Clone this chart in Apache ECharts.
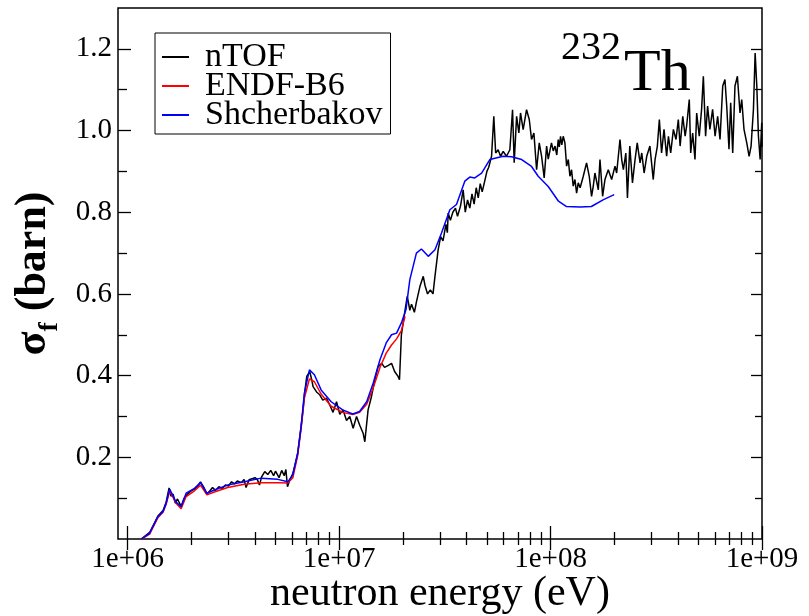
<!DOCTYPE html>
<html>
<head>
<meta charset="utf-8">
<script src="https://cdn.jsdelivr.net/npm/echarts@6/dist/echarts.min.js"></script>
<style>
html, body { margin: 0; padding: 0; background: #fff; }
#chart { width: 809px; height: 616px; }
</style>
</head>
<body>
<div id="chart"></div>
<script>
// nTOF measurement (eV, barn)
const ntofEnergy = [
  1.16e6, 1.27e6, 1.39e6, 1.47e6, 1.52e6, 1.57e6, 1.60e6, 1.64e6, 1.68e6, 1.72e6,
  1.79e6, 1.85e6, 1.92e6, 2.0e6, 2.07e6, 2.15e6, 2.21e6, 2.3e6, 2.37e6, 2.45e6,
  2.52e6, 2.6e6, 2.7e6, 2.8e6, 2.9e6, 3.0e6, 3.1e6, 3.2e6, 3.3e6, 3.45e6,
  3.55e6, 3.63e6, 3.75e6, 3.9e6, 4.0e6, 4.1e6, 4.2e6, 4.3e6, 4.45e6, 4.6e6,
  4.75e6, 4.9e6, 5.0e6, 5.2e6, 5.35e6, 5.5e6, 5.6e6, 5.7e6, 5.85e6, 6.04e6,
  6.24e6, 6.37e6, 6.59e6, 6.73e6, 6.88e6, 7.03e6, 7.26e6, 7.42e6, 7.53e6, 7.82e6,
  8.10e6, 8.37e6, 8.71e6, 9.03e6, 9.36e6, 9.72e6, 1.0075e7, 1.044e7, 1.084e7, 1.123e7,
  1.165e7, 1.209e7, 1.253e7, 1.299e7, 1.323e7, 1.371e7, 1.423e7, 1.475e7, 1.529e7, 1.59e7,
  1.64e7, 1.71e7, 1.77e7, 1.83e7, 1.90e7, 1.93e7, 1.97e7, 2.05e7, 2.1e7, 2.16e7,
  2.2e7, 2.27e7, 2.32e7, 2.41e7, 2.5e7, 2.55e7, 2.62e7, 2.7e7, 2.78e7, 2.84e7,
  2.94e7, 3.02e7, 3.1e7, 3.2e7, 3.25e7, 3.28e7, 3.36e7, 3.45e7, 3.55e7, 3.63e7,
  3.75e7, 3.86e7, 3.95e7, 4.05e7, 4.15e7, 4.25e7, 4.35e7, 4.45e7, 4.55e7, 4.65e7,
  4.75e7, 4.9e7, 5.0e7, 5.1e7, 5.26e7, 5.39e7, 5.50e7, 5.65e7, 5.80e7, 5.97e7,
  6.19e7, 6.42e7, 6.61e7, 6.73e7, 6.91e7, 7.08e7, 7.21e7, 7.42e7, 7.70e7, 7.93e7,
  8.13e7, 8.34e7, 8.59e7, 8.84e7, 9.07e7, 9.33e7, 9.58e7, 9.75e7, 1.01e8, 1.03e8,
  1.05e8, 1.07e8, 1.087e8, 1.10e8, 1.115e8, 1.13e8, 1.148e8, 1.169e8, 1.191e8, 1.213e8,
  1.235e8, 1.257e8, 1.280e8, 1.304e8, 1.328e8, 1.352e8, 1.38e8, 1.402e8, 1.428e8, 1.480e8,
  1.524e8, 1.563e8, 1.592e8, 1.621e8, 1.682e8, 1.713e8, 1.763e8, 1.808e8, 1.875e8, 1.945e8,
  2.017e8, 2.054e8, 2.13e8, 2.17e8, 2.21e8, 2.27e8, 2.31e8, 2.37e8, 2.44e8, 2.51e8,
  2.57e8, 2.65e8, 2.70e8, 2.77e8, 2.85e8, 2.95e8, 3.06e8, 3.12e8, 3.20e8, 3.27e8,
  3.35e8, 3.44e8, 3.54e8, 3.61e8, 3.70e8, 3.81e8, 3.92e8, 4.02e8, 4.10e8, 4.22e8,
  4.33e8, 4.40e8, 4.53e8, 4.60e8, 4.70e8, 4.82e8, 4.91e8, 5.05e8, 5.18e8, 5.28e8,
  5.41e8, 5.53e8, 5.67e8, 5.84e8, 6.00e8, 6.17e8, 6.33e8, 6.52e8, 6.68e8, 6.81e8,
  6.98e8, 7.11e8, 7.27e8, 7.45e8, 7.65e8, 7.87e8, 8.02e8, 8.22e8, 8.47e8, 8.69e8,
  8.88e8, 9.11e8, 9.28e8, 9.45e8, 9.62e8, 9.80e8, 9.97e8, 1.0e9
];
const ntofSigma = [
  0.0, 0.016, 0.056, 0.07, 0.09, 0.125, 0.105, 0.11, 0.088, 0.098,
  0.08, 0.1, 0.11, 0.118, 0.122, 0.13, 0.14, 0.125, 0.11, 0.118,
  0.126, 0.119, 0.128, 0.124, 0.132, 0.13, 0.14, 0.135, 0.142, 0.138,
  0.146, 0.126, 0.145, 0.148, 0.15, 0.146, 0.132, 0.152, 0.165, 0.158,
  0.168, 0.155, 0.166, 0.15, 0.168, 0.155, 0.17, 0.128, 0.145, 0.16,
  0.19, 0.21, 0.27, 0.31, 0.36, 0.398, 0.41, 0.39, 0.373, 0.36,
  0.353, 0.34, 0.345, 0.328, 0.31, 0.336, 0.305, 0.316, 0.29, 0.3,
  0.271, 0.3, 0.278, 0.259, 0.238, 0.316, 0.349, 0.39, 0.422, 0.43,
  0.42, 0.425, 0.43, 0.41, 0.398, 0.39, 0.5, 0.56, 0.594, 0.56,
  0.575, 0.555, 0.58, 0.618, 0.643, 0.62, 0.6, 0.61, 0.6, 0.643,
  0.708, 0.74, 0.73, 0.77, 0.75, 0.798, 0.78, 0.8, 0.81, 0.79,
  0.815, 0.855, 0.8, 0.83, 0.81, 0.845, 0.82, 0.86, 0.835, 0.87,
  0.85, 0.88, 0.9, 0.91, 0.937, 1.035, 0.945, 0.953, 0.937, 0.949,
  0.937, 0.953, 1.051, 0.921, 1.035, 0.994, 1.043, 1.002, 1.051, 1.027,
  0.978, 0.994, 0.904, 0.97, 0.937, 0.884, 0.962, 0.93, 0.97, 0.95,
  0.962, 0.94, 0.978, 0.96, 0.986, 0.965, 0.986, 0.970, 0.913, 0.929,
  0.888, 0.904, 0.864, 0.880, 0.847, 0.872, 0.86, 0.864, 0.888, 0.921,
  0.888, 0.839, 0.864, 0.896, 0.855, 0.929, 0.839, 0.880, 0.904, 0.880,
  0.913, 0.896, 0.978, 0.929, 0.904, 0.945, 0.835, 0.962, 0.872, 0.929,
  0.970, 0.921, 0.945, 0.896, 0.937, 0.962, 0.880, 0.929, 0.962, 1.027,
  0.945, 1.003, 0.937, 0.986, 0.945, 1.003, 0.978, 1.027, 0.962, 1.035,
  0.986, 1.011, 1.076, 0.945, 0.994, 0.929, 1.043, 0.986, 1.052, 1.133,
  0.986, 1.060, 1.003, 1.052, 0.986, 1.035, 0.978, 1.109, 1.125, 1.060,
  0.954, 1.068, 0.945, 1.109, 1.133, 1.043, 1.076, 1.003, 0.970, 0.937,
  0.962, 1.052, 1.190, 1.109, 0.986, 0.929, 1.019, 0.96
];

// ENDF/B-VI evaluation
const endfEnergy = [
  1.16e6, 1.27e6, 1.39e6, 1.47e6, 1.52e6, 1.58e6, 1.63e6, 1.69e6, 1.79e6, 1.89e6,
  2.07e6, 2.21e6, 2.37e6, 2.57e6, 2.97e6, 3.56e6, 4.27e6, 5.13e6, 5.72e6, 6.04e6,
  6.37e6, 6.61e6, 6.85e6, 7.24e6, 7.64e6, 8.22e6, 9.17e6, 1.04e7, 1.16e7, 1.25e7,
  1.35e7, 1.45e7, 1.56e7, 1.67e7, 1.77e7, 1.87e7, 1.97e7, 2.05e7
];
const endfSigma = [
  0.0, 0.012, 0.052, 0.066, 0.085, 0.118, 0.104, 0.088, 0.074, 0.104,
  0.118, 0.132, 0.108, 0.115, 0.126, 0.134, 0.138, 0.138, 0.137, 0.15,
  0.205, 0.27, 0.345, 0.392, 0.385, 0.355, 0.325, 0.31, 0.305, 0.31,
  0.33, 0.37, 0.42, 0.455, 0.475, 0.49, 0.51, 0.545
];

// Shcherbakov data
const shchEnergy = [
  1.16e6, 1.27e6, 1.39e6, 1.47e6, 1.52e6, 1.58e6, 1.63e6, 1.69e6, 1.79e6, 1.89e6,
  2.07e6, 2.21e6, 2.37e6, 2.57e6, 2.97e6, 3.56e6, 4.27e6, 5.13e6, 5.72e6, 6.04e6,
  6.37e6, 6.61e6, 6.85e6, 7.24e6, 7.64e6, 8.22e6, 9.17e6, 1.04e7, 1.16e7, 1.25e7,
  1.35e7, 1.45e7, 1.56e7, 1.67e7, 1.77e7, 1.87e7, 1.97e7, 2.07e7, 2.16e7, 2.32e7,
  2.45e7, 2.64e7, 2.84e7, 3.05e7, 3.34e7, 3.59e7, 3.93e7, 4.15e7, 4.38e7, 4.72e7,
  5.16e7, 5.97e7, 6.54e7, 7.30e7, 8.13e7, 8.74e7, 9.75e7, 1.09e8, 1.19e8, 1.38e8,
  1.56e8, 1.78e8, 2.0e8
];
const shchSigma = [
  0.0, 0.014, 0.055, 0.067, 0.087, 0.122, 0.108, 0.091, 0.079, 0.112,
  0.124, 0.138, 0.112, 0.120, 0.132, 0.140, 0.149, 0.146, 0.140, 0.157,
  0.210, 0.275, 0.357, 0.414, 0.402, 0.365, 0.336, 0.316, 0.306, 0.312,
  0.336, 0.382, 0.439, 0.480, 0.500, 0.504, 0.529, 0.561, 0.635, 0.700,
  0.710, 0.692, 0.708, 0.749, 0.806, 0.819, 0.876, 0.886, 0.884, 0.896,
  0.929, 0.937, 0.936, 0.929, 0.912, 0.888, 0.863, 0.827, 0.814, 0.813,
  0.814, 0.831, 0.843
];

// axis ticks
const xDecades = [6, 7, 8, 9];
const xMinorMult = [2, 3, 4, 5, 6, 7, 8, 9];
const yMajor = [0.2, 0.4, 0.6, 0.8, 1.0, 1.2];
const yMinor = [0.1, 0.3, 0.5, 0.7, 0.9, 1.1];

const xMin = 9e5, xMax = 1e9, yMin = 0, yMax = 1.3;
const lxMin = Math.log10(xMin), lxMax = Math.log10(xMax);
const xMinorLog = [];
xDecades.slice(0, 3).forEach(d => xMinorMult.forEach(m => xMinorLog.push(Math.log10(m) + d)));

const FONT = "'Liberation Serif', 'Times New Roman', serif";
const zip = (xs, ys) => xs.map((x, i) => [x, ys[i]]);

let chart = echarts.init(document.getElementById('chart'));
const gridRect = { left: 118, right: 47, top: 8, bottom: 77, outerBoundsMode: 'none', containLabel: false };

function tickAxisX(grid, pos, values, len, labels) {
  return {
    type: 'value', gridIndex: grid, position: pos, min: lxMin, max: lxMax,
    axisLine: { show: false },
    splitLine: { show: false },
    axisTick: { show: true, inside: true, length: len, customValues: values,
      lineStyle: { color: '#000', width: 1.3 } },
    axisLabel: labels ? {
      show: true, customValues: values, margin: 6,
      fontFamily: FONT, fontSize: 29, color: '#000',
      formatter: v => '1e+' + String(Math.round(v)).padStart(2, '0')
    } : { show: false }
  };
}
function tickAxisY(grid, pos, values, len, labels) {
  return {
    type: 'value', gridIndex: grid, position: pos, min: yMin, max: yMax,
    axisLine: { show: false },
    splitLine: { show: false },
    axisTick: { show: true, inside: true, length: len, customValues: values,
      lineStyle: { color: '#000', width: 1.3 } },
    axisLabel: labels ? {
      show: true, customValues: values, margin: 6,
      fontFamily: FONT, fontSize: 29, color: '#000',
      formatter: v => v.toFixed(1)
    } : { show: false }
  };
}

const xMainTicks = tickAxisX(1, 'bottom', xDecades, 13, true);
xMainTicks.name = 'neutron energy (eV)';
xMainTicks.nameLocation = 'middle';
xMainTicks.nameGap = 34;
xMainTicks.nameMoveOverlap = false;
xMainTicks.nameTextStyle = { fontFamily: FONT, fontSize: 42, color: '#000' };

const yMainTicks = tickAxisY(1, 'left', yMajor, 13, true);
yMainTicks.name = '{a|σ}{b|f}{a| (barn)}';
yMainTicks.nameLocation = 'middle';
yMainTicks.nameRotate = 90;
yMainTicks.nameGap = 54;
yMainTicks.nameMoveOverlap = false;
yMainTicks.nameTextStyle = {
  color: '#000',
  rich: {
    a: { fontFamily: FONT, fontSize: 44, fontWeight: 'bold', lineHeight: 60, color: '#000' },
    b: { fontFamily: FONT, fontSize: 28, fontWeight: 'bold', lineHeight: 28,
      verticalAlign: 'bottom', color: '#000' }
  }
};

const option = {
  animation: false,
  backgroundColor: '#fff',
  grid: [
    Object.assign({ show: true, borderColor: '#000', borderWidth: 1.5, backgroundColor: 'transparent' }, gridRect),
    Object.assign({}, gridRect),
    Object.assign({}, gridRect)
  ],
  xAxis: [
    { type: 'log', gridIndex: 0, min: xMin, max: xMax, logBase: 10, show: false },
    xMainTicks,
    tickAxisX(1, 'top', xDecades, 11, false),
    tickAxisX(2, 'bottom', xMinorLog, 7, false),
    tickAxisX(2, 'top', xMinorLog, 6, false)
  ],
  yAxis: [
    { type: 'value', gridIndex: 0, min: yMin, max: yMax, show: false },
    yMainTicks,
    tickAxisY(1, 'right', yMajor, 11, false),
    tickAxisY(2, 'left', yMinor, 9, false),
    tickAxisY(2, 'right', yMinor, 7, false)
  ],
  legend: {
    orient: 'vertical',
    left: 155, top: 33,
    data: ['nTOF', 'ENDF-B6', 'Shcherbakov'],
    icon: 'rect',
    backgroundColor: '#fff',
    borderColor: '#000', borderWidth: 1,
    padding: [7, 8, 2, 7],
    itemWidth: 27, itemHeight: 2, itemGap: -5,
    textStyle: { fontFamily: FONT, fontSize: 34, color: '#000', padding: [0, 0, 0, 11] }
  },
  graphic: [
    { type: 'text', left: 561, top: 28, style: { text: '232', font: '40px ' + FONT, fill: '#000' } },
    { type: 'text', left: 624, top: 44, style: { text: 'Th', font: '60px ' + FONT, fill: '#000' } }
  ],
  series: [
    { name: 'nTOF', type: 'line', xAxisIndex: 0, yAxisIndex: 0, symbol: 'none',
      data: zip(ntofEnergy, ntofSigma),
      itemStyle: { color: '#000' }, lineStyle: { color: '#000', width: 1.5 } },
    { name: 'ENDF-B6', type: 'line', xAxisIndex: 0, yAxisIndex: 0, symbol: 'none',
      data: zip(endfEnergy, endfSigma),
      itemStyle: { color: '#ff0000' }, lineStyle: { color: '#ff0000', width: 1.5 } },
    { name: 'Shcherbakov', type: 'line', xAxisIndex: 0, yAxisIndex: 0, symbol: 'none',
      data: zip(shchEnergy, shchSigma),
      itemStyle: { color: '#0000ff' }, lineStyle: { color: '#0000ff', width: 1.5 } }
  ]
};
chart.setOption(option);
</script>
</body>
</html>
